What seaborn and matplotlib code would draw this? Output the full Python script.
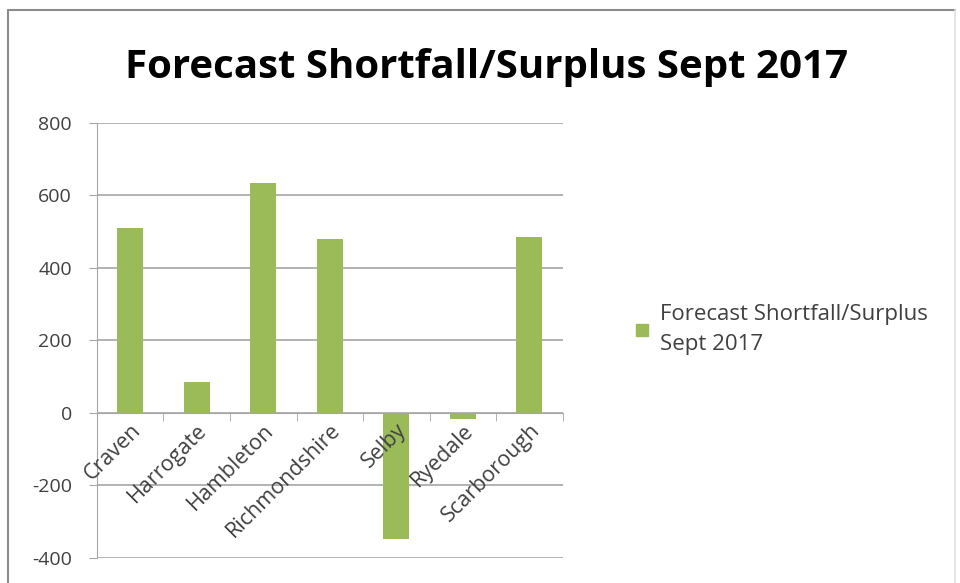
import pandas as pd
import matplotlib
matplotlib.use('Agg')
import matplotlib.pyplot as plt
import seaborn as sns
from matplotlib.lines import Line2D

# Data
districts = ['Craven', 'Harrogate', 'Hambleton', 'Richmondshire', 'Selby', 'Ryedale', 'Scarborough']
shortfall = [510, 86, 634, 480, -348, -17, 486]
series_name = 'Forecast Shortfall/Surplus Sept 2017'
y_ticks = [-400, -200, 0, 200, 400, 600, 800]

df = pd.DataFrame({'district': districts, 'value': shortfall})

sns.set_style('white')
plt.rcParams['font.family'] = ['Open Sans', 'DejaVu Sans']
plt.rcParams['axes.unicode_minus'] = False

green = '#9BBB59'
grid_grey = '#A6A6A6'
text_grey = '#404040'

fig = plt.figure(figsize=(9.6, 5.83), dpi=100)
ax = fig.add_axes([0.101, 0.043, 0.485, 0.746])

sns.barplot(data=df, x='district', y='value', color=green, width=0.39,
            saturation=1, linewidth=0, ax=ax)

ax.set_ylim(-400, 800)
ax.set_yticks(y_ticks)
ax.set_xlim(-0.5, len(districts) - 0.5)
ax.yaxis.grid(True, color=grid_grey, linewidth=1.2)
ax.set_axisbelow(True)
ax.xaxis.set_zorder(3)  # category labels sit on top of the bars
ax.set_xlabel('')
ax.set_ylabel('')

# x axis sits at zero like an Excel chart
for side in ['top', 'right']:
    ax.spines[side].set_visible(False)
ax.spines['bottom'].set_position(('data', 0))
ax.spines['bottom'].set_color(grid_grey)
ax.spines['left'].set_color(grid_grey)

ax.tick_params(axis='y', left=True, length=6, color=grid_grey, labelsize=14,
               pad=12, labelcolor=text_grey)
ax.tick_params(axis='x', which='major', bottom=True, length=0, labelsize=15.5,
               pad=5, labelcolor=text_grey)
ax.set_xticks([i + 0.5 for i in range(len(districts))], minor=True)
ax.tick_params(axis='x', which='minor', bottom=True, length=6, color=grid_grey,
               direction='out')
plt.setp(ax.get_xticklabels(), rotation=45, ha='right', va='top', rotation_mode='anchor')

fig.suptitle(series_name, x=0.507, y=0.918, fontsize=29, fontweight='bold', color='black')

handle = Line2D([], [], marker='s', linestyle='', color=green, markersize=9)
leg = ax.legend([handle], ['Forecast Shortfall/Surplus\nSept 2017'], loc='center left',
                bbox_to_anchor=(1.1, 0.525), frameon=False, fontsize=16,
                handletextpad=0.2, handlelength=1.2, labelcolor=text_grey)
for t in leg.get_texts():
    t.set_linespacing(1.6)

# chart border (top and left are visible, right is faint)
fig.add_artist(Line2D([0.008, 0.995], [0.983, 0.983], transform=fig.transFigure,
                      color='#8C8C8C', linewidth=1.5))
fig.add_artist(Line2D([0.008, 0.008], [0.0, 0.983], transform=fig.transFigure,
                      color='#8C8C8C', linewidth=1.5))
fig.add_artist(Line2D([0.995, 0.995], [0.0, 0.983], transform=fig.transFigure,
                      color='#E0E0E0', linewidth=1.2))

fig.savefig('out.png', dpi=100)
